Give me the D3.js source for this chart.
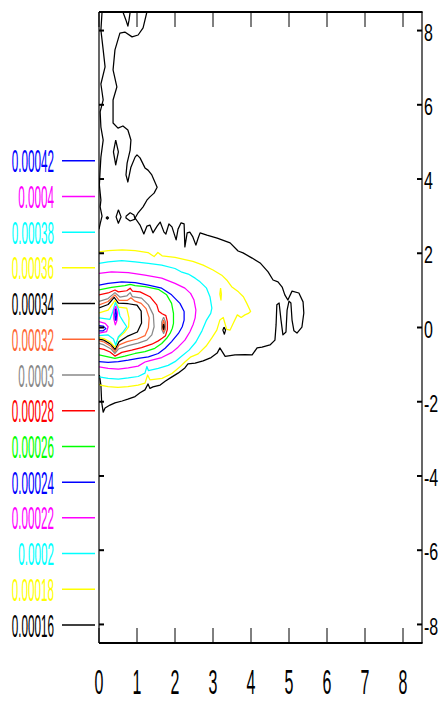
<!DOCTYPE html>
<html><head><meta charset="utf-8">
<script src="https://cdn.jsdelivr.net/npm/d3@7"></script>
<style>html,body{margin:0;padding:0;background:#fff;} svg{display:block;}</style>
</head><body><svg id="chart" width="439" height="702"></svg>
<script>
// ---- data ----
const levels = ["0.00016","0.00018","0.0002","0.00022","0.00024","0.00026","0.00028","0.0003","0.00032","0.00034","0.00036","0.00038","0.0004","0.00042"];
const levelColors = ["#000000","#ffff00","#00ffff","#ff00ff","#0000ff","#00ff00","#ff0000","#888888","#ff6633","#000000","#ffff00","#00ffff","#ff00ff","#0000ff"];
const xTicks = [0,1,2,3,4,5,6,7,8];
const yTicks = [-8,-6,-4,-2,0,2,4,6,8];

// contour polylines per level, [x, y] in data units
const c16 = [
 [[0.08,8.50],[0.05,8.01],[0.11,7.48],[0.16,7.02],[0.05,6.56],[0.11,6.13],[0.03,5.81],[0.05,5.40],[0.11,5.05],[0.05,4.59],[0.03,4.24],[0.01,3.84],[0.05,3.43],[0.03,3.25],[0.08,3.00],[0.03,2.79],[0.00,2.65]],
 [[0.63,8.50],[0.71,8.28],[0.76,8.12],[0.79,8.28],[0.82,8.50]],
 [[1.26,8.50],[1.16,8.07],[1.03,7.88],[0.87,7.83],[0.68,7.96],[0.55,7.93],[0.42,7.48],[0.37,6.94],[0.47,6.48],[0.37,6.13],[0.37,5.81],[0.37,5.51],[0.50,5.37],[0.63,5.43],[0.76,5.32],[0.84,5.05],[0.82,4.78],[0.74,4.43],[0.71,4.11],[0.76,3.92],[0.84,4.32],[0.95,4.59],[1.00,4.65],[1.08,4.57],[1.21,4.30],[1.29,4.24],[1.39,4.11],[1.53,3.78],[1.45,3.62],[1.34,3.52],[1.26,3.43],[1.16,3.25],[1.03,3.09],[0.95,2.95],[1.08,2.76],[1.18,2.52],[1.26,2.73],[1.34,2.76],[1.42,2.55],[1.53,2.73],[1.61,2.84],[1.71,2.57],[1.76,2.52],[1.84,2.79],[1.92,2.71],[2.03,2.36],[2.08,2.65],[2.16,2.82],[2.24,2.79],[2.26,2.17],[2.32,2.55],[2.39,2.57],[2.47,2.44],[2.55,2.22],[2.61,2.41],[2.66,2.55],[2.84,2.49],[3.11,2.41],[3.45,2.28],[3.66,2.06],[3.79,2.01],[4.03,1.87],[4.24,1.74],[4.45,1.50],[4.58,1.28],[4.71,1.23],[4.82,1.09],[4.89,0.88],[4.97,0.74],[5.08,0.98],[5.26,0.93],[5.37,0.69],[5.39,0.39],[5.34,0.01],[5.21,-0.15],[5.13,-0.09],[5.08,0.20],[5.05,0.66],[5.00,0.71],[4.95,0.47],[4.92,-0.12],[4.84,-0.20],[4.79,0.20],[4.74,0.66],[4.68,0.61],[4.66,0.07],[4.63,-0.34],[4.50,-0.47],[4.29,-0.53],[4.16,-0.55],[4.03,-0.74],[3.84,-0.73],[3.58,-0.74],[3.32,-0.78],[3.18,-0.55],[3.11,-0.69],[2.95,-0.81],[2.74,-0.90],[2.53,-0.96],[2.34,-0.98],[2.26,-1.09],[2.08,-1.23],[1.92,-1.33],[1.74,-1.45],[1.61,-1.55],[1.42,-1.60],[1.34,-1.64],[1.29,-1.52],[1.21,-1.68],[1.08,-1.76],[0.95,-1.86],[0.76,-1.93],[0.61,-1.98],[0.42,-2.03],[0.29,-2.09],[0.16,-2.17],[0.11,-2.28],[0.07,-2.01],[0.05,-1.55],[0.01,-1.28]],
 [[0.71,3.00],[0.82,3.09],[0.92,3.03],[0.95,2.92],[0.82,2.87],[0.71,2.95],[0.71,3.00]],
 [[0.44,5.05],[0.51,4.73],[0.44,4.38],[0.38,4.73],[0.44,5.05]],
 [[0.51,3.17],[0.58,2.98],[0.51,2.81],[0.45,2.98],[0.51,3.17]],
 [[0.22,2.99],[0.25,2.95],[0.22,2.92],[0.19,2.95],[0.22,2.99]],
 [[3.29,0.01],[3.33,-0.07],[3.30,-0.18],[3.26,-0.07],[3.29,0.01]]
];
const c18 = [
 [[0.00,2.04],[0.24,2.07],[0.61,2.09],[0.95,2.07],[1.29,2.02],[1.45,1.91],[1.55,2.02],[1.66,1.93],[2.00,1.89],[2.26,1.83],[2.47,1.78],[2.74,1.68],[3.00,1.55],[3.23,1.41],[3.36,1.28],[3.49,1.10],[3.67,0.96],[3.80,0.83],[3.89,0.65],[3.99,0.43],[3.93,0.38],[3.84,0.34],[3.74,0.27],[3.64,0.34],[3.53,0.11],[3.45,-0.07],[3.36,-0.05],[3.27,0.27],[3.18,0.20],[3.10,-0.07],[2.97,-0.28],[2.82,-0.50],[2.61,-0.71],[2.42,-0.79],[2.26,-0.93],[2.13,-1.06],[1.92,-1.24],[1.66,-1.37],[1.34,-1.41],[1.28,-1.28],[1.21,-1.50],[1.03,-1.55],[0.76,-1.59],[0.50,-1.61],[0.24,-1.59],[0.03,-1.55],[0.00,-1.52]],
 [[3.20,1.06],[3.22,0.90],[3.21,0.74],[3.18,0.90],[3.20,1.06]]
];
const c20 = [
 [[0.00,1.73],[0.24,1.77],[0.60,1.80],[0.95,1.77],[1.30,1.73],[1.65,1.68],[2.00,1.59],[2.16,1.50],[2.35,1.44],[2.53,1.33],[2.66,1.23],[2.83,1.06],[2.92,0.83],[2.97,0.52],[2.94,0.38],[2.83,0.20],[2.71,-0.09],[2.55,-0.39],[2.37,-0.61],[2.18,-0.77],[2.00,-0.92],[1.82,-1.02],[1.56,-1.10],[1.30,-1.16],[1.26,-1.05],[1.21,-1.23],[1.03,-1.32],[0.77,-1.36],[0.51,-1.39],[0.24,-1.37],[0.00,-1.33]]
];
const c22 = [
 [[0.00,1.46],[0.33,1.50],[0.77,1.48],[1.21,1.41],[1.65,1.33],[2.00,1.19],[2.26,1.06],[2.41,0.92],[2.50,0.74],[2.55,0.47],[2.53,0.26],[2.48,0.09],[2.39,-0.12],[2.26,-0.34],[2.08,-0.53],[1.92,-0.67],[1.65,-0.81],[1.34,-0.89],[1.21,-0.93],[1.03,-1.04],[0.77,-1.09],[0.51,-1.12],[0.24,-1.10],[0.00,-1.06]]
];
const c24 = [
 [[0.00,1.14],[0.24,1.19],[0.60,1.23],[0.95,1.21],[1.30,1.14],[1.65,1.06],[1.91,0.88],[2.13,0.65],[2.24,0.43],[2.24,0.20],[2.19,0.02],[2.09,-0.16],[1.91,-0.38],[1.74,-0.56],[1.56,-0.70],[1.30,-0.79],[1.03,-0.83],[0.77,-0.88],[0.51,-0.92],[0.24,-0.94],[0.00,-0.92]]
];
const c26 = [
 [[0.00,1.01],[0.33,1.08],[0.68,1.13],[0.82,1.16],[0.95,1.13],[1.21,1.10],[1.56,1.03],[1.78,0.88],[1.91,0.65],[1.96,0.38],[1.96,0.11],[1.93,-0.02],[1.87,-0.16],[1.78,-0.29],[1.65,-0.43],[1.47,-0.56],[1.21,-0.65],[0.95,-0.70],[0.68,-0.77],[0.42,-0.83],[0.24,-0.79],[0.00,-0.74]]
];
const c28 = [
 [[0.00,0.88],[0.24,0.93],[0.42,1.01],[0.51,0.96],[0.73,0.99],[0.82,1.06],[0.88,0.98],[1.08,0.96],[1.34,0.83],[1.52,0.61],[1.57,0.44],[1.66,0.37],[1.76,0.32],[1.80,0.15],[1.80,-0.05],[1.75,-0.22],[1.66,-0.29],[1.56,-0.36],[1.39,-0.45],[1.12,-0.54],[0.86,-0.61],[0.60,-0.67],[0.42,-0.77],[0.29,-0.66],[0.13,-0.59],[0.00,-0.56]]
];
const c30 = [
 [[0.00,0.70],[0.24,0.78],[0.42,0.94],[0.55,0.82],[0.73,0.85],[0.82,0.94],[0.88,0.83],[1.12,0.79],[1.30,0.61],[1.43,0.34],[1.45,0.02],[1.39,-0.20],[1.26,-0.34],[1.03,-0.42],[0.77,-0.49],[0.51,-0.58],[0.42,-0.70],[0.32,-0.58],[0.13,-0.47],[0.00,-0.43]],
 [[1.70,0.28],[1.75,0.15],[1.75,-0.05],[1.70,-0.16],[1.65,-0.05],[1.65,0.15],[1.70,0.28]]
];
const c32 = [
 [[0.00,0.61],[0.24,0.70],[0.42,0.88],[0.53,0.73],[0.74,0.73],[0.84,0.80],[0.95,0.71],[1.11,0.65],[1.24,0.51],[1.32,0.26],[1.30,-0.01],[1.21,-0.22],[1.01,-0.31],[0.74,-0.38],[0.53,-0.47],[0.42,-0.65],[0.32,-0.51],[0.13,-0.39],[0.00,-0.35]],
 [[1.70,0.20],[1.73,0.09],[1.73,-0.03],[1.70,-0.11],[1.67,-0.03],[1.67,0.09],[1.70,0.20]]
];
const c34 = [
 [[0.00,0.53],[0.24,0.62],[0.40,0.81],[0.51,0.66],[0.77,0.64],[1.00,0.60],[1.11,0.44],[1.12,0.12],[1.01,-0.12],[0.74,-0.24],[0.53,-0.38],[0.42,-0.59],[0.32,-0.46],[0.13,-0.34],[0.00,-0.31]],
 [[1.70,0.10],[1.715,0.02],[1.70,-0.05],[1.685,0.02],[1.70,0.10]]
];
const c36 = [
 [[0.00,0.39],[0.24,0.47],[0.42,0.73],[0.51,0.55],[0.73,0.52],[0.79,0.25],[0.78,0.02],[0.68,-0.12],[0.51,-0.28],[0.42,-0.53],[0.29,-0.39],[0.13,-0.30],[0.00,-0.27]]
];
const c38 = [
 [[0.00,0.26],[0.29,0.22],[0.36,0.42],[0.43,0.67],[0.51,0.50],[0.55,0.31],[0.64,0.16],[0.73,0.02],[0.64,-0.11],[0.51,-0.25],[0.44,-0.47],[0.38,-0.31],[0.24,-0.20],[0.00,-0.22]]
];
const c40 = [
 [[0.00,0.16],[0.16,0.11],[0.24,0.02],[0.20,-0.11],[0.00,-0.15]],
 [[0.44,0.58],[0.49,0.39],[0.47,0.18],[0.43,0.07],[0.39,0.23],[0.39,0.44],[0.44,0.58]]
];
const c42 = [
 [[0.00,0.05],[0.11,0.04],[0.18,-0.03],[0.11,-0.09],[0.00,-0.09]],
 [[0.44,0.50],[0.46,0.34],[0.45,0.20],[0.43,0.20],[0.42,0.34],[0.44,0.50]]
];
const contourSets = [c16,c18,c20,c22,c24,c26,c28,c30,c32,c34,c36,c38,c40,c42];

// ---- layout ----
const svg = d3.select("#chart");
const L = 99, R = 422, T = 12, B = 643;
const x = d3.scaleLinear().domain([0, 8.5]).range([L, R]);
const y = d3.scaleLinear().domain([-8.5, 8.5]).range([B, T]);
const FONT = "'Liberation Sans', Arial, sans-serif";

svg.append("defs").append("clipPath").attr("id","clip")
  .append("rect").attr("x",L).attr("y",T).attr("width",R-L).attr("height",B-T);

const line = d3.line().x(d => x(d[0])).y(d => y(d[1])).curve(d3.curveLinear);
const plot = svg.append("g").attr("clip-path","url(#clip)");
contourSets.forEach((set, i) => {
  plot.append("g").selectAll("path").data(set).join("path")
    .attr("d", line).attr("fill","none")
    .attr("stroke", levelColors[i]).attr("stroke-width", 1.25)
    .attr("stroke-linejoin","round");
});

// frame
const ax = svg.append("g").attr("stroke","#000").attr("fill","none");
ax.append("line").attr("x1",L).attr("x2",L).attr("y1",T).attr("y2",B).attr("stroke-width",1.2);
ax.append("line").attr("x1",R).attr("x2",R).attr("y1",T).attr("y2",B).attr("stroke-width",1.2);
ax.append("line").attr("x1",L).attr("x2",R+0.6).attr("y1",T).attr("y2",T).attr("stroke-width",2);
ax.append("line").attr("x1",L).attr("x2",R+0.6).attr("y1",B).attr("y2",B).attr("stroke-width",2.2);

// x ticks (inside, top and bottom)
xTicks.forEach(t => {
  ax.append("line").attr("x1",x(t)).attr("x2",x(t)).attr("y1",B).attr("y2",B-15).attr("stroke-width",1);
  ax.append("line").attr("x1",x(t)).attr("x2",x(t)).attr("y1",T).attr("y2",T+15).attr("stroke-width",1);
});
// y ticks (inside, left and right)
yTicks.forEach(t => {
  ax.append("line").attr("x1",L).attr("x2",L+5).attr("y1",y(t)).attr("y2",y(t)).attr("stroke-width",2);
  ax.append("line").attr("x1",R-5).attr("x2",R).attr("y1",y(t)).attr("y2",y(t)).attr("stroke-width",2);
});

// x labels
svg.append("g").selectAll("text").data(xTicks).join("text")
  .attr("transform", d => `translate(${x(d)},682) scale(1.0,2.15)`)
  .attr("text-anchor","middle").attr("dy","0.36em")
  .attr("font-family",FONT).attr("font-size",16).attr("fill","#000")
  .text(d => String(d));

// y labels (right)
svg.append("g").selectAll("text").data(yTicks).join("text")
  .attr("transform", d => `translate(424,${y(d)+1.5}) scale(1.0,1.5)`)
  .attr("text-anchor","start").attr("dy","0.36em")
  .attr("font-family",FONT).attr("font-size",16).attr("fill","#000")
  .text(d => String(d));

// legend
const legendY = d3.scaleLinear().domain([0, levels.length-1]).range([625, 160.7]);
const lg = svg.append("g");
levels.forEach((lv, i) => {
  const yy = legendY(i);
  lg.append("line").attr("x1",62).attr("x2",95).attr("y1",yy).attr("y2",yy)
    .attr("stroke",levelColors[i]).attr("stroke-width",1.5);
  lg.append("text").attr("transform",`translate(54,${yy}) scale(0.73,2.0)`)
    .attr("text-anchor","end").attr("dy","0.36em")
    .attr("font-family",FONT).attr("font-size",16).attr("fill",levelColors[i])
    .text(lv);
});
</script>
</body></html>
